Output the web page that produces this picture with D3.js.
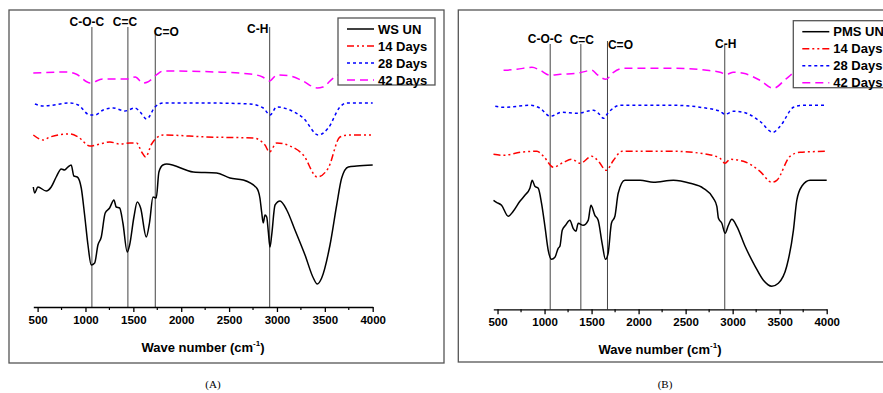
<!DOCTYPE html>
<html lang="en">
<head>
<meta charset="utf-8">
<title>FTIR spectra</title>
<script src="https://cdn.jsdelivr.net/npm/d3@7"></script>
<style>
  body { margin: 0; background: #fff; }
  svg { display: block; }
  .tick text, .lab { font-family: "Liberation Sans", Arial, sans-serif; font-weight: bold; }
</style>
</head>
<body>
<script>
// wave number ticks
var ticks = [500, 1000, 1500, 2000, 2500, 3000, 3500, 4000];
var minorTicks = [750, 1250, 1750, 2250, 2750, 3250, 3750];
var seriesNames = ["14 Days", "28 Days", "42 Days"];
var bandNames = ["C-O-C", "C=C", "C=O", "C-H"];

// (A) WS - [wave number, transmittance a.u.]
var wsUn = [[455,120],[469,114],[503,120],[590,116],[642,120],[694,130],[747,138],[782,137],[817,140],[851,142],[879,131],[914,130],[956,119],[991,92],[1026,62],[1060,42],[1096,44],[1130,62],[1165,70],[1206,94],[1252,99],[1297,107],[1321,100],[1357,99],[1391,84],[1436,55],[1461,62],[1506,90],[1541,105],[1576,99],[1635,70],[1670,85],[1705,110],[1739,109],[1767,135],[1809,142],[1848,143],[2126,135],[2370,134],[2509,129],[2648,127],[2788,119],[2822,109],[2840,95],[2857,84],[2875,92],[2893,90],[2910,75],[2927,60],[2945,72],[2980,102],[3032,106],[3102,97],[3188,77],[3293,52],[3380,29],[3421,23],[3467,29],[3554,62],[3624,102],[3676,129],[3745,140],[3833,141],[4000,142]];
var ws14 = [[455,172],[559,167],[629,170],[837,173],[924,170],[1046,161],[1151,163],[1255,165],[1360,163],[1465,164],[1534,164],[1587,155],[1628,150],[1691,163],[1812,172],[2266,170],[2753,169],[2875,162],[2920,155],[2997,164],[3136,161],[3275,152],[3421,130],[3536,139],[3658,170],[3745,172],[4000,172]];
var ws28 = [[472,203],[559,201],[837,204],[924,202],[1046,192],[1098,192],[1185,197],[1290,199],[1412,196],[1517,199],[1570,195],[1639,188],[1726,200],[1812,204],[2266,204],[2718,203],[2857,199],[2928,192],[2997,200],[3136,197],[3275,189],[3432,172],[3536,179],[3658,200],[3728,204],[4000,204]];
var ws42 = [[455,234],[800,235],[900,233],[1050,224],[1180,228],[1430,228],[1520,230],[1600,224],[1650,225],[1740,232],[1810,236],[2370,235],[2720,233],[2850,230],[2920,226],[3000,232],[3140,231],[3270,226],[3420,219],[3480,220],[3590,229],[3700,234],[4000,235]];
var wsBands = [1067, 1443, 1729, 2924];

// (B) PMS
var pmsUn = [[457,109],[489,107],[543,104],[614,93],[667,98],[738,108],[791,114],[844,121],[869,129],[897,123],[933,121],[968,106],[1004,83],[1039,59],[1074,50],[1110,52],[1145,61],[1163,63],[1188,79],[1223,84],[1269,89],[1304,81],[1333,78],[1358,86],[1411,84],[1464,89],[1493,104],[1535,94],[1570,89],[1612,66],[1648,50],[1676,56],[1711,86],[1748,93],[1783,116],[1854,129],[2017,129],[2158,127],[2370,129],[2548,126],[2689,121],[2795,111],[2832,103],[2849,91],[2885,86],[2920,76],[2955,84],[2991,90],[3044,83],[3132,63],[3239,43],[3327,29],[3416,23],[3486,26],[3575,43],[3646,79],[3682,109],[3735,123],[3823,129],[4000,129]];
var pms14 = [[457,155],[564,154],[741,157],[919,158],[989,153],[1095,142],[1201,147],[1291,150],[1379,146],[1503,153],[1573,148],[1655,139],[1733,149],[1822,158],[2370,158],[2725,155],[2866,151],[2919,146],[2972,150],[3114,148],[3291,138],[3416,127],[3469,129],[3610,153],[3716,157],[4000,158]];
var pms28 = [[476,203],[564,202],[848,204],[954,201],[1060,193],[1184,197],[1344,196],[1520,199],[1573,196],[1626,191],[1680,197],[1804,204],[2370,204],[2725,201],[2866,198],[2919,195],[3007,198],[3114,197],[3291,188],[3427,177],[3505,183],[3646,202],[3735,204],[4000,204]];
var pms42 = [[564,239],[706,240],[866,242],[954,239],[1060,234],[1166,235],[1344,236],[1503,239],[1556,235],[1652,230],[1733,237],[1839,241],[2370,241],[2725,239],[2866,237],[2937,235],[3007,237],[3114,236],[3291,229],[3433,221],[3575,231],[3700,239],[4000,240]];
var pmsBands = [1060, 1386, 1669, 2916];

var colors = ["#000", "#ff0000", "#0000ff", "#ff00ff"];
var dashes = [null, "7,3,2,3,2,3", "3,3", "8,5"];

var w = 883, h = 393;
var svg = d3.select("body").append("svg").attr("width", w).attr("height", h);

var panels = [
  { name: "WS UN", tag: "(A)", data: [wsUn, ws14, ws28, ws42], bands: wsBands,
    frame: [9, 10, 435, 353], x0: 33.3, x1: 372.7, axisY: 307,
    bandTop: [27, 27, 30, 27], bandLab: [[-5, 26], [-3, 26], [11, 36], [-12, 33]],
    legend: [338, 18], tagX: 213 },
  { name: "PMS UN", tag: "(B)", data: [pmsUn, pms14, pms28, pms42], bands: pmsBands,
    frame: [458.3, 10, 460, 352], x0: 493.3, x1: 826.7, axisY: 309.3,
    bandTop: [44, 44, 41, 45], bandLab: [[-5, 43], [1, 44], [13, 48.7], [1, 48.3]],
    legend: [793.3, 20.7], tagX: 665 }
];

panels.forEach(function(p) {
  var g = svg.append("g");

  g.append("rect")
    .attr("x", p.frame[0]).attr("y", p.frame[1])
    .attr("width", p.frame[2]).attr("height", p.frame[3])
    .attr("fill", "none").attr("stroke", "#555").attr("stroke-width", 1.3);

  var x = d3.scaleLinear().domain([455, 4000]).range([p.x0, p.x1]);
  var y = d3.scaleLinear().domain([0, 300]).range([p.axisY, p.axisY - 300]);

  // band markers
  p.bands.forEach(function(b, i) {
    g.append("line")
      .attr("x1", x(b)).attr("x2", x(b))
      .attr("y1", p.bandTop[i]).attr("y2", p.axisY)
      .attr("stroke", "#444").attr("stroke-width", 1);
    g.append("text").attr("class", "lab")
      .attr("x", x(b) + p.bandLab[i][0]).attr("y", p.bandLab[i][1])
      .attr("text-anchor", "middle").attr("font-size", 12)
      .text(bandNames[i]);
  });

  var line = d3.line()
    .curve(d3.curveMonotoneX)
    .x(function(d) { return x(d[0]); })
    .y(function(d) { return y(d[1]); });

  p.data.forEach(function(s, i) {
    g.append("path")
      .attr("d", line(s))
      .attr("fill", "none")
      .attr("stroke", colors[i])
      .attr("stroke-width", 1.5)
      .attr("stroke-dasharray", dashes[i]);
  });

  // x axis
  var ax = g.append("g").attr("transform", "translate(0," + p.axisY + ")")
    .call(d3.axisBottom(x).tickValues(ticks).tickFormat(d3.format("d")).tickSize(5).tickSizeOuter(0));
  ax.select(".domain").attr("stroke", "#000").attr("stroke-width", 1.3);
  ax.selectAll(".tick line").attr("stroke-width", 1.3);
  ax.selectAll(".tick text").attr("font-size", 11.5).attr("dy", "1.05em").attr("y", 5);
  ax.selectAll(".minor").data(minorTicks).enter().append("line")
    .attr("x1", function(d) { return x(d); }).attr("x2", function(d) { return x(d); })
    .attr("y1", 0).attr("y2", 3).attr("stroke", "#000").attr("stroke-width", 1.2);

  var t = g.append("text").attr("class", "lab")
    .attr("x", (p.x0 + p.x1) / 2).attr("y", p.axisY + 45)
    .attr("text-anchor", "middle").attr("font-size", 13);
  t.append("tspan").text("Wave number (cm");
  t.append("tspan").attr("font-size", 8).attr("dy", -6).text("-1");
  t.append("tspan").attr("dy", 6).text(")");

  // legend
  var lx = p.legend[0], ly = p.legend[1];
  g.append("rect").attr("x", lx).attr("y", ly).attr("width", 97).attr("height", 67)
    .attr("fill", "#fff").attr("stroke", "#555").attr("stroke-width", 1.3);
  var names = [p.name].concat(seriesNames);
  names.forEach(function(n, i) {
    var yy = ly + 11 + i * 17;
    g.append("line").attr("x1", lx + 9).attr("x2", lx + 36)
      .attr("y1", yy).attr("y2", yy)
      .attr("stroke", colors[i]).attr("stroke-width", 1.5)
      .attr("stroke-dasharray", dashes[i]);
    g.append("text").attr("class", "lab")
      .attr("x", lx + 40).attr("y", yy + 4.5)
      .attr("font-size", 13).text(n);
  });

  svg.append("text")
    .attr("x", p.tagX).attr("y", 388)
    .attr("text-anchor", "middle")
    .attr("font-family", "Liberation Serif, Times New Roman, serif")
    .attr("font-size", 11)
    .text(p.tag);
});
</script>
</body>
</html>
